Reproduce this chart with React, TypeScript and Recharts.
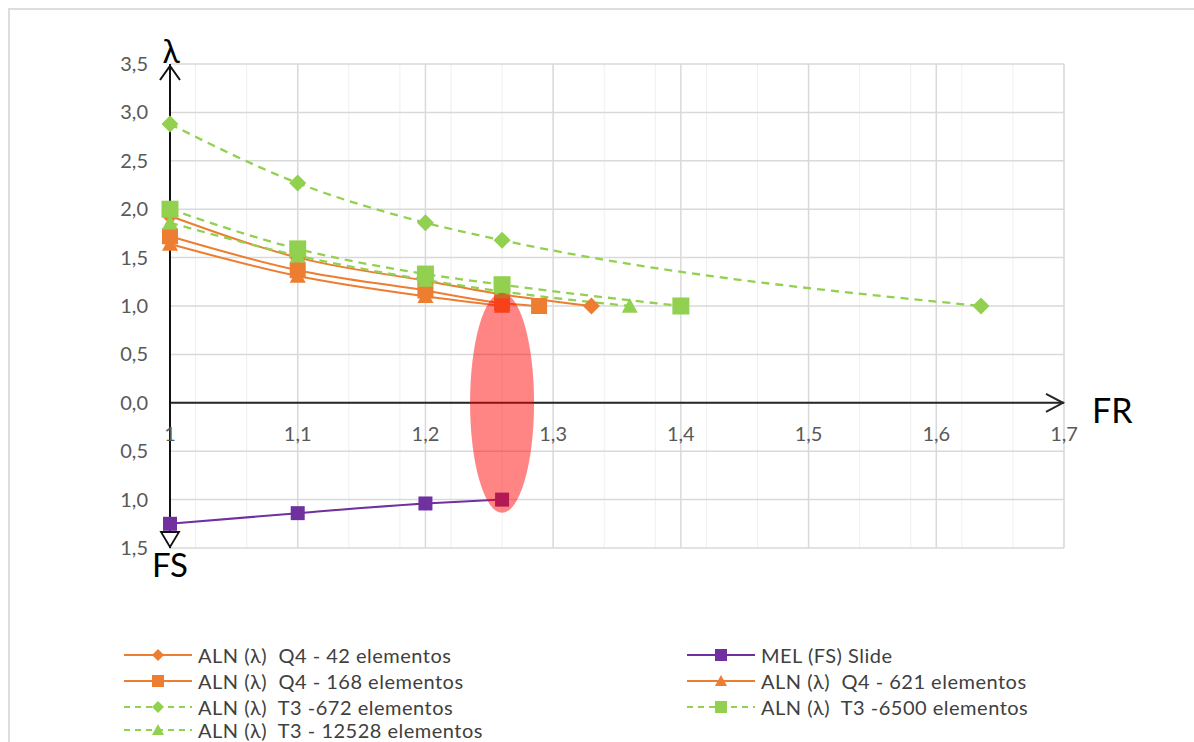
import React from 'react';
import {
  LineChart,
  Line,
  XAxis,
  YAxis,
  CartesianGrid,
  ReferenceDot,
  ReferenceLine,
} from 'recharts';

// ---- data: FR (x) against λ / FS (y) ----
const q4_42_fr = [1, 1.1, 1.2, 1.26, 1.33];
const q4_42_val = [1.93, 1.5, 1.26, 1.12, 1.0];

const q4_168_fr = [1, 1.1, 1.2, 1.26, 1.289];
const q4_168_val = [1.72, 1.37, 1.16, 1.03, 1.0];

const q4_621_fr = [1, 1.1, 1.2, 1.26];
const q4_621_val = [1.64, 1.31, 1.1, 1.0];

const t3_672_fr = [1, 1.1, 1.2, 1.26, 1.635];
const t3_672_val = [2.88, 2.27, 1.86, 1.68, 1.0];

const t3_6500_fr = [1, 1.1, 1.2, 1.26, 1.4];
const t3_6500_val = [2.0, 1.59, 1.33, 1.22, 1.0];

const t3_12528_fr = [1, 1.1, 1.2, 1.26, 1.36];
const t3_12528_val = [1.86, 1.52, 1.27, 1.15, 1.0];

// FS is plotted downwards (negative side of the axis)
const mel_fr = [1, 1.1, 1.2, 1.26];
const mel_val = [-1.25, -1.14, -1.04, -1.0];

// ---- axes ----
const xTicks = [1, 1.1, 1.2, 1.3, 1.4, 1.5, 1.6, 1.7];
const yTicks = [-1.5, -1, -0.5, 0, 0.5, 1, 1.5, 2, 2.5, 3, 3.5];
const xDomain = [1, 1.7];
const yDomain = [-1.5, 3.5];
const xMinorStep = 0.02;
const highlightFR = 1.26;

const ORANGE = '#ED7D31';
const GREEN = '#92D050';
const PURPLE = '#7030A0';
const FONT = 'Lato, "Open Sans", "DejaVu Sans", sans-serif';

const toRows = (xs: number[], ys: number[]) => xs.map((x, i) => ({ fr: x, v: ys[i] }));

type MarkerKind = 'diamond' | 'square' | 'triangle';

function markerPath(kind: MarkerKind, cx: number, cy: number, size: number) {
  const s = size / 2;
  if (kind === 'diamond') return `M${cx},${cy - s}L${cx + s},${cy}L${cx},${cy + s}L${cx - s},${cy}Z`;
  if (kind === 'triangle') return `M${cx},${cy - s}L${cx + s},${cy + s * 0.85}L${cx - s},${cy + s * 0.85}Z`;
  return `M${cx - s},${cy - s}H${cx + s}V${cy + s}H${cx - s}Z`;
}

const makeDot = (kind: MarkerKind, color: string, size: number) => (props: any) => {
  const { cx, cy, index } = props;
  if (cx == null || cy == null) return <g key={`m-${index}`} />;
  return <path key={`m-${index}`} d={markerPath(kind, cx, cy, size)} fill={color} stroke="none" />;
};

interface SeriesDef {
  name: string;
  rows: { fr: number; v: number }[];
  color: string;
  dashed: boolean;
  marker: MarkerKind;
  size: number;
}

// drawing order follows the workbook's series order
const series: SeriesDef[] = [
  { name: 'ALN (λ)  Q4 - 42 elementos', rows: toRows(q4_42_fr, q4_42_val), color: ORANGE, dashed: false, marker: 'diamond', size: 17 },
  { name: 'MEL (FS) Slide', rows: toRows(mel_fr, mel_val), color: PURPLE, dashed: false, marker: 'square', size: 14 },
  { name: 'ALN (λ)  Q4 - 168 elementos', rows: toRows(q4_168_fr, q4_168_val), color: ORANGE, dashed: false, marker: 'square', size: 16 },
  { name: 'ALN (λ)  Q4 - 621 elementos', rows: toRows(q4_621_fr, q4_621_val), color: ORANGE, dashed: false, marker: 'triangle', size: 16 },
  { name: 'ALN (λ)  T3 -672 elementos', rows: toRows(t3_672_fr, t3_672_val), color: GREEN, dashed: true, marker: 'diamond', size: 17 },
  { name: 'ALN (λ)  T3 -6500 elementos', rows: toRows(t3_6500_fr, t3_6500_val), color: GREEN, dashed: true, marker: 'square', size: 17 },
  { name: 'ALN (λ)  T3 - 12528 elementos', rows: toRows(t3_12528_fr, t3_12528_val), color: GREEN, dashed: true, marker: 'triangle', size: 16 },
];

// legend layout: two columns, filled top to bottom
const legendColumns: string[][] = [
  ['ALN (λ)  Q4 - 42 elementos', 'ALN (λ)  Q4 - 168 elementos', 'ALN (λ)  T3 -672 elementos', 'ALN (λ)  T3 - 12528 elementos'],
  ['MEL (FS) Slide', 'ALN (λ)  Q4 - 621 elementos', 'ALN (λ)  T3 -6500 elementos'],
];

const minorX: number[] = [];
for (let k = 0; k <= Math.round((xDomain[1] - xDomain[0]) / xMinorStep); k++) {
  minorX.push(+(xDomain[0] + k * xMinorStep).toFixed(2));
}

const fmt = (v: number) => Math.abs(v).toFixed(1).replace('.', ',');
const fmtX = (v: number) => (v === 1 ? '1' : v.toFixed(1).replace('.', ','));

const YTick = (p: any) => (
  <text x={p.x - 22} y={p.y} dy="0.35em" textAnchor="end" fontFamily={FONT} fontSize={20} fill="#595959">
    {fmt(p.payload.value)}
  </text>
);

function LegendSymbol({ s }: { s: SeriesDef }) {
  return (
    <svg width={68} height={20} style={{ display: 'block' }}>
      <line
        x1={0}
        y1={10}
        x2={68}
        y2={10}
        stroke={s.color}
        strokeWidth={2}
        strokeDasharray={s.dashed ? '6 5' : undefined}
      />
      <path d={markerPath(s.marker, 34, 10, 12)} fill={s.color} />
    </svg>
  );
}

function ChartLegend() {
  const colLeft = [124, 687];
  const rowTop = [655, 681, 707, 730];
  return (
    <>
      {legendColumns.map((col, ci) =>
        col.map((name, ri) => {
          const s = series.find((d) => d.name === name)!;
          return (
            <div
              key={name}
              style={{
                position: 'absolute',
                left: colLeft[ci],
                top: rowTop[ri] - 10,
                height: 20,
                display: 'flex',
                alignItems: 'center',
                whiteSpace: 'pre',
                fontFamily: FONT,
                fontSize: 20,
                lineHeight: '20px',
                letterSpacing: 0.5,
                color: '#404040',
              }}
            >
              <LegendSymbol s={s} />
              <span style={{ marginLeft: 6 }}>{name}</span>
            </div>
          );
        })
      )}
    </>
  );
}

export default function App() {
  return (
    <div
      style={{
        position: 'absolute',
        left: 0,
        top: 0,
        width: 1194,
        height: 742,
        overflow: 'hidden',
        background: '#fff',
      }}
    >
      <div
        style={{
          position: 'absolute',
          left: 8,
          top: 8,
          width: 1200,
          height: 800,
          border: '2px solid #DDDDDD',
        }}
      />
      <div style={{ position: 'absolute', left: 0, top: 0 }}>
        <LineChart width={1194} height={742} margin={{ top: 64, right: 130, bottom: 194, left: 110 }}>
          <CartesianGrid
            horizontal={false}
            verticalValues={minorX}
            stroke="#EFEFEF"
            strokeWidth={1}
          />
          <CartesianGrid
            horizontalValues={yTicks}
            verticalValues={xTicks}
            stroke="#D9D9D9"
            strokeWidth={1.5}
          />
          <XAxis dataKey="fr" type="number" domain={xDomain} ticks={xTicks} hide />
          <YAxis
            type="number"
            domain={yDomain}
            ticks={yTicks}
            width={60}
            axisLine={false}
            tickLine={false}
            tickSize={0}
            tickMargin={0}
            tick={YTick}
            interval={0}
          />
          <ReferenceLine y={0} stroke="#262626" strokeWidth={2} />
          <ReferenceLine x={1} stroke="#111111" strokeWidth={2} />

          {series.map((s) => (
            <Line
              key={s.name}
              data={s.rows}
              dataKey="v"
              name={s.name}
              type="monotone"
              stroke={s.color}
              strokeWidth={s.dashed ? 2.3 : 2}
              strokeDasharray={s.dashed ? '8 6' : undefined}
              dot={makeDot(s.marker, s.color, s.size)}
              activeDot={false}
              isAnimationActive={false}
            />
          ))}

          {/* FR tick labels sit under the horizontal axis at y = 0 */}
          {xTicks.map((v) => (
            <ReferenceDot
              key={`xl-${v}`}
              x={v}
              y={0}
              r={0}
              shape={(p: any) => (
                <text x={p.cx} y={p.cy + 31} dy="0.35em" textAnchor="middle" fontFamily={FONT} fontSize={20} fill="#595959">
                  {fmtX(v)}
                </text>
              )}
            />
          ))}

          {/* arrow heads and axis titles */}
          <ReferenceDot
            x={xDomain[1]}
            y={0}
            r={0}
            shape={(p: any) => (
              <g>
                <path d={`M${p.cx - 18},${p.cy - 9}L${p.cx - 1},${p.cy}L${p.cx - 18},${p.cy + 9}`} fill="none" stroke="#262626" strokeWidth={2} />
                <text x={p.cx + 28} y={p.cy + 20} fontFamily={FONT} fontSize={34} fill="#000">FR</text>
              </g>
            )}
          />
          <ReferenceDot
            x={xDomain[0]}
            y={yDomain[1]}
            r={0}
            shape={(p: any) => (
              <g>
                <path d={`M${p.cx - 10},${p.cy + 16}L${p.cx},${p.cy + 2}L${p.cx + 10},${p.cy + 16}`} fill="none" stroke="#111" strokeWidth={2} />
                <text x={p.cx + 1} y={p.cy - 1} textAnchor="middle" fontFamily={FONT} fontSize={32} fill="#000">λ</text>
              </g>
            )}
          />
          <ReferenceDot
            x={xDomain[0]}
            y={yDomain[0]}
            r={0}
            shape={(p: any) => (
              <g>
                <path d={`M${p.cx - 9},${p.cy - 16}L${p.cx + 9},${p.cy - 16}L${p.cx},${p.cy - 1}Z`} fill="#fff" stroke="#111" strokeWidth={1.8} />
                <text x={p.cx} y={p.cy + 29} textAnchor="middle" fontFamily={FONT} fontSize={33} fill="#000">FS</text>
              </g>
            )}
          />

          {/* highlight of the FR where FS = 1 */}
          <ReferenceDot
            x={highlightFR}
            y={0}
            r={0}
            shape={(p: any) => (
              <ellipse cx={p.cx} cy={p.cy} rx={32} ry={110} fill="#FF0000" fillOpacity={0.48} />
            )}
          />
        </LineChart>
      </div>
      <ChartLegend />
    </div>
  );
}
